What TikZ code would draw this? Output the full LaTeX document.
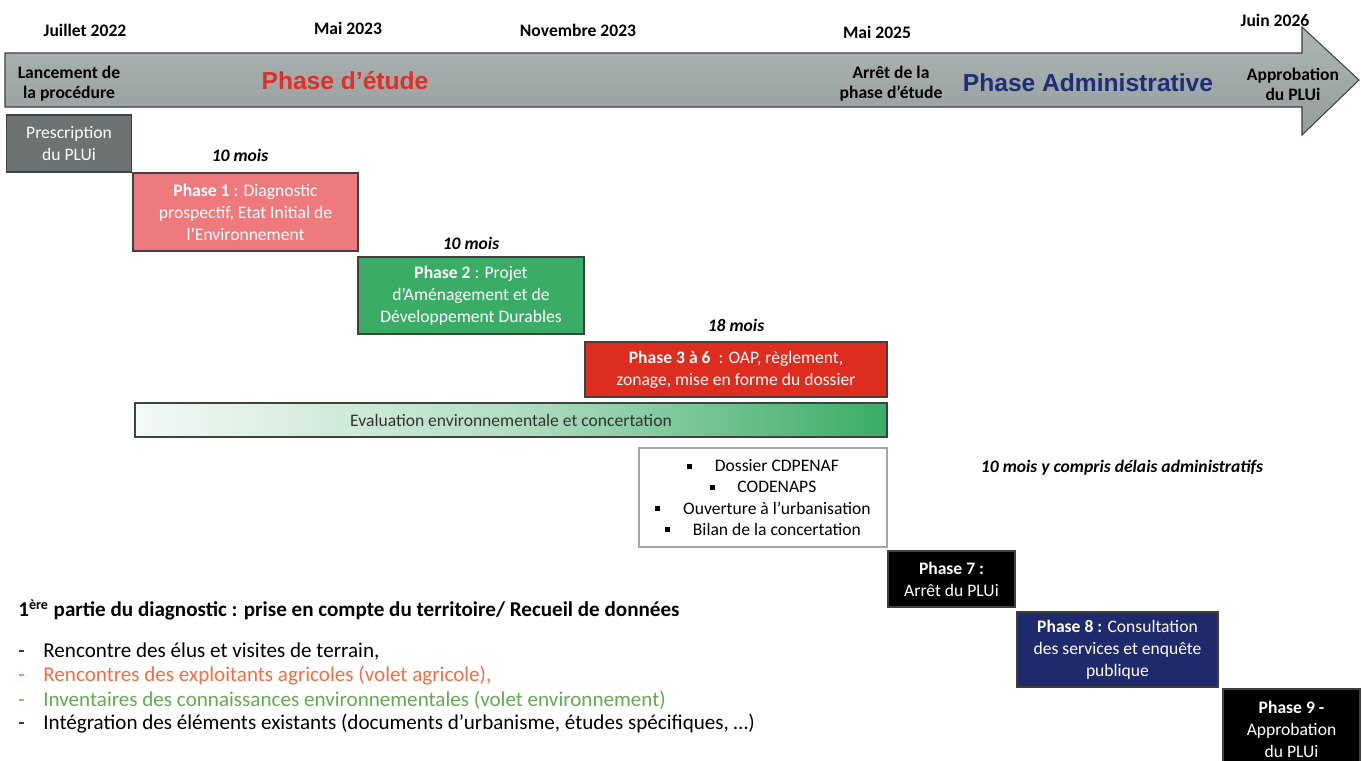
\documentclass[tikz,border=0pt]{standalone}
\usepackage{fontspec}
\setmainfont{Carlito}
\newfontfamily\arialfont{Liberation Sans}
\definecolor{prescgray}{RGB}{108, 115, 114}
\definecolor{phaseone}{RGB}{238, 122, 126}
\definecolor{phasetwo}{RGB}{58, 172, 102}
\definecolor{phasethree}{RGB}{222, 44, 30}
\definecolor{phaseeight}{RGB}{31, 42, 108}
\definecolor{etudered}{RGB}{222, 48, 40}
\definecolor{adminblue}{RGB}{32, 46, 120}
\definecolor{agriorange}{RGB}{240, 110, 70}
\definecolor{envgreen}{RGB}{100, 170, 80}
\definecolor{arrowtop}{RGB}{172, 181, 180}
\definecolor{arrowmid}{RGB}{204, 211, 210}
\definecolor{arrowbot}{RGB}{150, 158, 157}
\definecolor{evalleft}{RGB}{244, 249, 246}
\usetikzlibrary{positioning}

\begin{document}
\begin{tikzpicture}[
  box/.style={draw=black!75, line width=0.6pt, text=white, align=center, inner sep=2pt, font=\fontsize{10}{12.5}\selectfont},
  date/.style={font=\bfseries\fontsize{10}{12}\selectfont},
  dur/.style={font=\bfseries\itshape\fontsize{10}{12}\selectfont},
  milestone/.style={align=center, font=\bfseries\fontsize{10}{11.5}\selectfont},
  bigphase/.style={font=\arialfont\bfseries\fontsize{14}{16}\selectfont},
  listline/.style={anchor=west, inner sep=0pt, font=\fontsize{12}{14}\selectfont}
]
  \useasboundingbox (0, 0) rectangle (27.24, -15.2);
  \clip (0, 0) rectangle (27.24, -15.2);

  % Dates
  \node[date] (d1) at (1.70, -0.60) {Juillet 2022};
  \node[date] (d2) at (6.96, -0.56) {Mai 2023};
  \node[date] (d3) at (11.56, -0.60) {Novembre 2023};
  \node[date] (d4) at (17.54, -0.64) {Mai 2025};
  \node[date] (d5) at (25.50, -0.40) {Juin 2026};

  % Timeline arrow
  \draw[black!75, line width=0.6pt, top color=arrowtop, middle color=arrowmid, bottom color=arrowbot]
    (0.10, -1.06) -- (26.04, -1.06) -- (26.04, -0.54) -- (27.18, -1.60)
    -- (26.04, -2.70) -- (26.04, -2.14) -- (0.10, -2.14) -- cycle;

  \node[milestone] (lanc) at (1.38, -1.68) {Lancement de\\la procédure};
  \node[bigphase, etudered] (etude) at (6.90, -1.62) {Phase d’étude};
  \node[milestone] (arret) at (17.82, -1.68) {Arrêt de la\\phase d’étude};
  \node[bigphase, adminblue] (admin) at (21.76, -1.66) {Phase Administrative};
  \node[milestone] (appro) at (25.86, -1.68) {Approbation\\du PLUi};

  % Phase d'etude
  \node[box, fill=prescgray, minimum width=2.5cm, minimum height=1.14cm] (presc) at (1.38, -2.87) {Prescription\\du PLUi};

  \node[dur] (dur1) at (4.80, -3.10) {10 mois};
  \node[box, fill=phaseone, minimum width=4.5cm, minimum height=1.56cm] (ph1) at (4.91, -4.24)
    {\textbf{Phase 1} : Diagnostic\\prospectif, Etat Initial de\\l’Environnement};

  \node[dur] (dur2) at (9.42, -4.86) {10 mois};
  \node[box, fill=phasetwo, minimum width=4.52cm, minimum height=1.54cm] (ph2) at (9.42, -5.91)
    {\textbf{Phase 2} : Projet\\d’Aménagement et de\\Développement Durables};

  \node[dur] (dur3) at (14.72, -6.50) {18 mois};
  \node[box, fill=phasethree, minimum width=6.04cm, minimum height=1.10cm] (ph3) at (14.72, -7.39)
    {\textbf{Phase 3 à 6 } : OAP, règlement,\\zonage, mise en forme du dossier};

  \node[box, text=black!80, left color=evalleft, right color=phasetwo, middle color=phasetwo!35!evalleft,
    minimum width=15.04cm, minimum height=0.68cm] (eval) at (10.22, -8.40)
    {Evaluation environnementale et concertation};

  % Consultations list
  \node[box, draw=black!35, fill=white, text=black, minimum width=4.96cm, minimum height=1.98cm,
    font=\fontsize{10}{12}\selectfont] (consult) at (15.26, -9.95)
    {\raisebox{1.6pt}{\rule{2.8pt}{2.8pt}}\hspace{1.3em}Dossier CDPENAF\\
     \raisebox{1.6pt}{\rule{2.8pt}{2.8pt}}\hspace{1.3em}CODENAPS\\
     \raisebox{1.6pt}{\rule{2.8pt}{2.8pt}}\hspace{1.3em}Ouverture à l’urbanisation\\
     \raisebox{1.6pt}{\rule{2.8pt}{2.8pt}}\hspace{1.3em}Bilan de la concertation};

  % Phase administrative
  \node[dur] (dur4) at (22.44, -9.36) {10 mois y compris délais administratifs};

  \node[box, fill=black, minimum width=2.54cm, minimum height=1.12cm] (ph7) at (19.03, -11.58)
    {\textbf{Phase 7 :}\\Arrêt du PLUi};
  \node[box, fill=phaseeight, minimum width=4.02cm, minimum height=1.50cm] (ph8) at (22.35, -12.99)
    {\textbf{Phase 8 :} Consultation\\des services et enquête\\publique};
  \node[box, fill=black, minimum width=2.74cm, minimum height=1.62cm] (ph9) at (25.83, -14.59)
    {\textbf{Phase 9 -}\\Approbation\\du PLUi};

  % Diagnostic
  \node[anchor=west, inner sep=0pt, font=\bfseries\fontsize{12}{14}\selectfont] (diag) at (0.36, -12.20)
    {1\textsuperscript{ère} partie du diagnostic : prise en compte du territoire/ Recueil de données};

  \node[listline] (l1) at (0.36, -13.04)
    {\makebox[0.50cm][l]{-}Rencontre des élus et visites de terrain,};
  \node[listline, agriorange] (l2) at (0.36, -13.52)
    {\makebox[0.50cm][l]{-}Rencontres des exploitants agricoles (volet agricole),};
  \node[listline, envgreen] (l3) at (0.36, -14.00)
    {\makebox[0.50cm][l]{-}Inventaires des connaissances environnementales (volet environnement)};
  \node[listline] (l4) at (0.36, -14.48)
    {\makebox[0.50cm][l]{-}Intégration des éléments existants (documents d’urbanisme, études spécifiques, …)};
\end{tikzpicture}
\end{document}
